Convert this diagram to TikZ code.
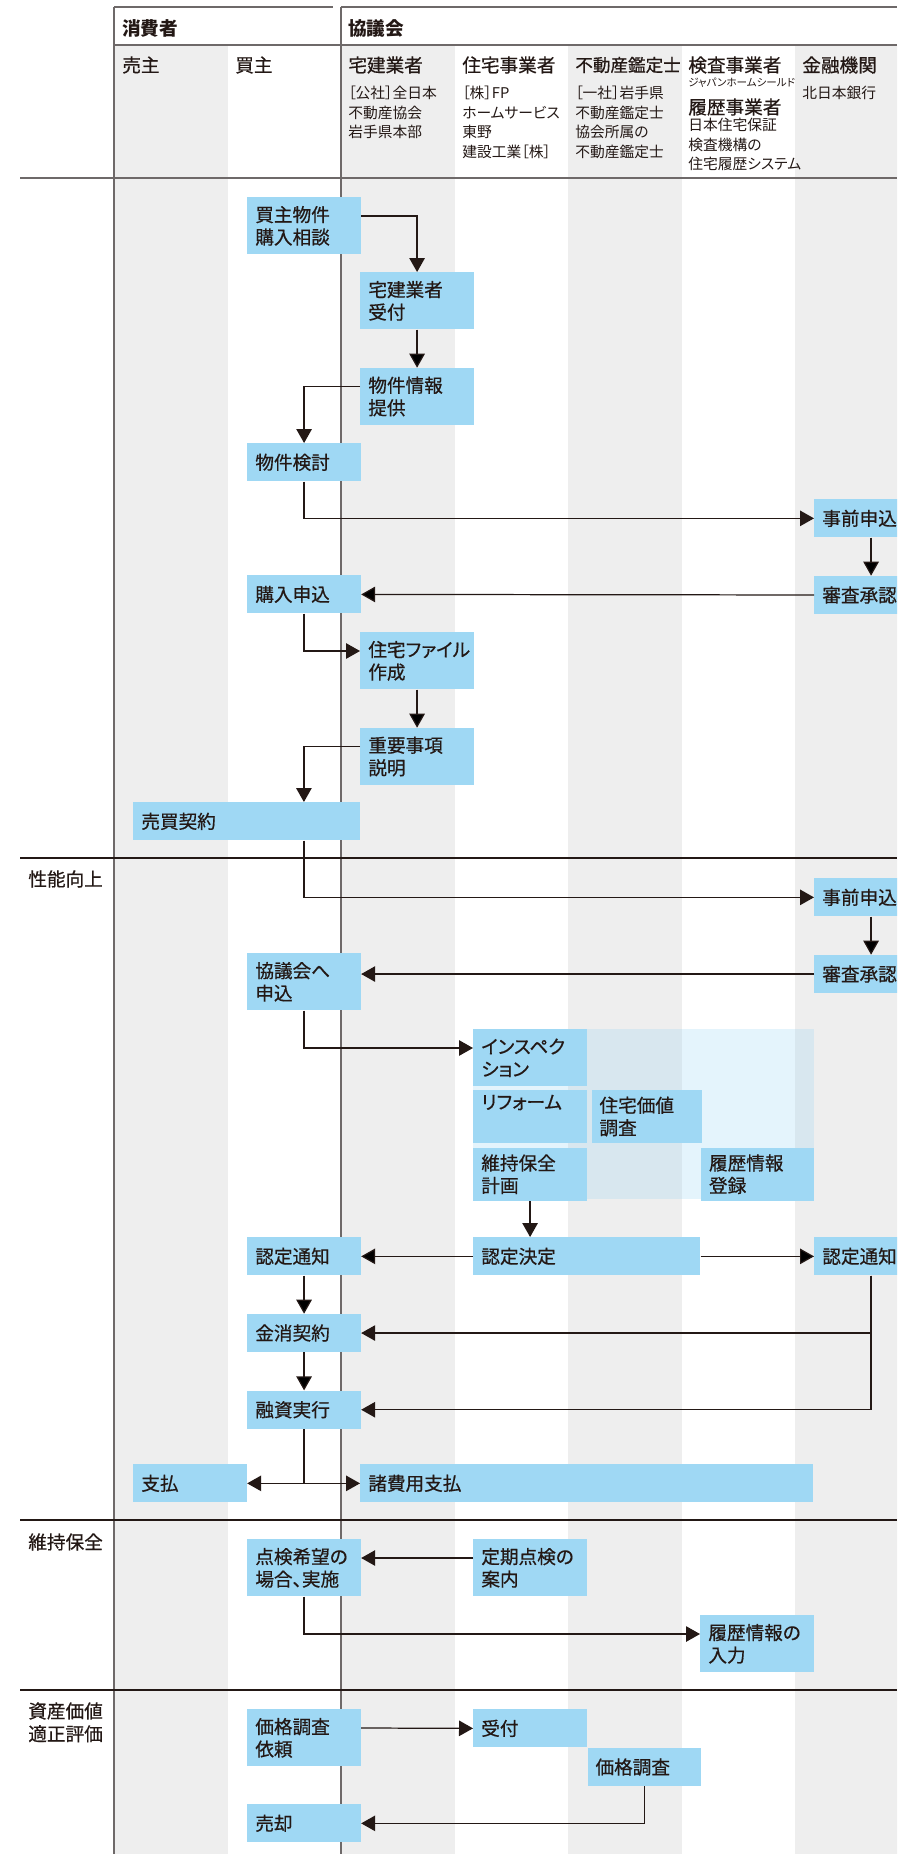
\documentclass[tikz,border=0pt]{standalone}
\usepackage{fontspec}
\setmainfont{Noto Sans CJK JP}[RawFeature=+palt]
\newfontfamily\medfont{Noto Sans CJK JP}[RawFeature=+palt, FakeBold=0.6]
\usepackage{xcolor}
\usepackage{tikz}
\usetikzlibrary{positioning, arrows.meta}

\definecolor{boxblue}{RGB}{159,216,244}
\definecolor{lanegray}{RGB}{238,238,238}
\definecolor{ink}{RGB}{35,24,21}
\definecolor{rulegray}{RGB}{110,105,105}

\tikzset{
	>={Triangle[length=0.28cm, width=0.31cm]}, % solid triangle heads
	every node/.style={text=ink},
	box/.style={fill=boxblue, anchor=north west, inner xsep=0.16cm, inner ysep=0pt,
		text width=#1, minimum height=0.76cm, align=left,
		font=\medfont\fontsize{10.6pt}{12.8pt}\selectfont},
	box/.default=1.95cm,
	tall/.style={minimum height=1.14cm},
	lanehead/.style={anchor=west, inner sep=0pt, font=\medfont\fontsize{10.6pt}{12.8pt}\selectfont},
	member/.style={anchor=north west, inner sep=0pt, align=left, font=\fontsize{8.4pt}{11.1pt}\selectfont},
	phase/.style={anchor=north west, inner sep=0pt, align=left, font=\medfont\fontsize{10.6pt}{13pt}\selectfont},
	flow/.style={draw=ink, line width=0.7pt},
	rule/.style={draw=rulegray, line width=0.7pt},
}

\begin{document}
\begin{tikzpicture}[x=0.02cm, y=-0.02cm, node distance=0.76cm]
	\useasboundingbox (0,0) rectangle (897,1854);
	\clip (0,0) rectangle (897,1854);

	% Lanes
	\foreach \lx in {114, 341, 568, 795}
		\fill[lanegray] (\lx,45) rectangle ++(113.5,1809);
	\fill[boxblue, opacity=0.28] (473,1029) rectangle (814,1199);
	\draw[rule] (114,7) -- (333,7) (341,7) -- (897,7) (114,45) -- (897,45);
	\draw[rule] (114,7) -- (114,1854) (341,7) -- (341,1854) (20,178) -- (897,178);
	\foreach \ry in {858, 1520, 1690}
		\draw[flow] (20,\ry) -- (897,\ry);

	% Header
	\node[lanehead, font=\bfseries\fontsize{10.6pt}{12.8pt}\selectfont] (consumer) at (122,28) {消費者};
	\node[lanehead, font=\bfseries\fontsize{10.6pt}{12.8pt}\selectfont] (council) at (348,28) {協議会};
	\node[lanehead] (seller) at (122,65) {売主};
	\node[lanehead] (buyer) at (235,65) {買主};
	\node[lanehead] (broker) at (348,65) {宅建業者};
	\node[lanehead] (builder) at (462,65) {住宅事業者};
	\node[lanehead, font=\medfont\fontsize{10pt}{12pt}\selectfont] (appraiser) at (575,65) {不動産鑑定士};
	\node[lanehead] (inspector) at (688,65) {検査事業者};
	\node[lanehead] (bank) at (802,65) {金融機関};
	\node[member] (broker-m) at (348,86) {［公社］全日本\\不動産協会\\岩手県本部};
	\node[member] (builder-m) at (462,86) {［株］FP\\ホームサービス\\東野\\建設工業［株］};
	\node[member] (appraiser-m) at (575,86) {［一社］岩手県\\不動産鑑定士\\協会所属の\\不動産鑑定士};
	\node[lanehead, font=\fontsize{6pt}{7pt}\selectfont] (inspector-m) at (688,83) {ジャパンホームシールド};
	\node[lanehead] (record) at (688,107) {履歴事業者};
	\node[member] (record-m) at (688,118) {日本住宅保証\\検査機構の\\住宅履歴システム};
	\node[member] (bank-m) at (802,86) {北日本銀行};

	% Phases
	\node[phase] (improve) at (28,870) {性能向上};
	\node[phase] (maintain) at (28,1533) {維持保全};
	\node[phase] (assess) at (28,1702) {資産価値\\適正評価};

	% Steps
	\node[box, tall] (buy) at (247,197) {買主物件\\購入相談};
	\node[box, tall] (tk) at (360,272) {宅建業者\\受付};
	\node[box, tall, below=of tk] (info) {物件情報\\提供};
	\node[box] (study) at (247,443) {物件検討};
	\node[box] (pre1) at (814,499) {事前申込};
	\node[box, below=of pre1] (rev1) {審査承認};
	\node[box] (apply) at (247,575) {購入申込};
	\node[box, tall] (file) at (360,632) {住宅ファイル\\作成};
	\node[box, tall, below=of file] (exp) {重要事項\\説明};
	\node[box=4.22cm] (sale) at (133,802) {売買契約};
	\node[box] (pre2) at (814,878) {事前申込};
	\node[box, below=of pre2] (rev2) {審査承認};
	\node[box, tall] (req) at (247,953) {協議会へ\\申込};
	\node[box, tall] (insp) at (473,1029) {インスペク\\ション};
	\node[box, minimum height=1.06cm, below=0.06cm of insp] (reform) {リフォーム\\\strut};
	\node[box=1.88cm, minimum height=1.06cm, right=0.08cm of reform] (value) {住宅価値\\調査};
	\node[box, minimum height=1.06cm, below=0.08cm of reform] (keep) {維持保全\\計画};
	\node[box, minimum height=1.06cm, right=2.27cm of keep] (reg) {履歴情報\\登録};
	\node[box=4.22cm] (dec) at (473,1237) {認定決定};
	\node[box] (ntL) at (247,1237) {認定通知};
	\node[box] (ntR) at (814,1237) {認定通知};
	\node[box, below=of ntL] (loan) {金消契約};
	\node[box, below=of loan] (fin) {融資実行};
	\node[box] (pay) at (133,1464) {支払};
	\node[box=8.74cm] (fees) at (360,1464) {諸費用支払};
	\node[box, tall] (insp2) at (247,1539) {点検希望の\\場合、実施};
	\node[box, tall] (guide) at (473,1539) {定期点検の\\案内};
	\node[box, tall] (hist) at (700,1615) {履歴情報の\\入力};
	\node[box, tall] (ask) at (247,1709) {価格調査\\依頼};
	\node[box] (rcv) at (473,1709) {受付};
	\node[box, below right=0cm and 0cm of rcv] (val) {価格調査};
	\node[box] (sell) at (247,1804) {売却};

	% Flows
	\path[flow, ->]
		(tk) edge (info)
		(pre1) edge (rev1)
		(rev1) edge (apply)
		(file) edge (exp)
		(pre2) edge (rev2)
		(dec) edge (ntL)
		(dec) edge (ntR)
		(ntL) edge (loan)
		(loan) edge (fin);
	\draw[flow, ->] ([yshift=-0.38cm]buy.north east) -| (tk.north);
	\draw[flow, ->] ([yshift=-0.38cm]info.north west) -| (study.north);
	\draw[flow, ->] (study.south) |- (pre1.west);
	\draw[flow, ->] (apply.south) |- ([yshift=-0.38cm]file.north west);
	\draw[flow, ->] ([yshift=-0.38cm]exp.north west) -| ([xshift=-1.135cm]sale.north east);
	\draw[flow, ->] ([xshift=-1.135cm]sale.south east) |- (pre2.west);
	\draw[flow, ->] (rev2.west) -- (rev2.west -| req.east);
	\draw[flow, ->] (req.south) |- ([yshift=-0.38cm]insp.north west);
	\draw[flow, ->] (keep.south) -- (keep.south |- dec.north);
	\draw[flow, ->] (ntR.south) |- (loan.east);
	\draw[flow, ->] (ntR.south) |- (fin.east);
	\draw[flow] (fin.south) -- (fin.south |- pay.east);
	\draw[flow, <->] (pay.east) -- (fees.west);
	\draw[flow, ->] ([yshift=-0.38cm]guide.north west) -- ([yshift=-0.38cm]insp2.north east);
	\draw[flow, ->] (insp2.south) |- ([yshift=-0.38cm]hist.north west);
	\draw[flow, ->] ([yshift=-0.38cm]ask.north east) -- (rcv.west);
	\draw[flow, ->] (val.south) |- (sell.east);
\end{tikzpicture}
\end{document}
